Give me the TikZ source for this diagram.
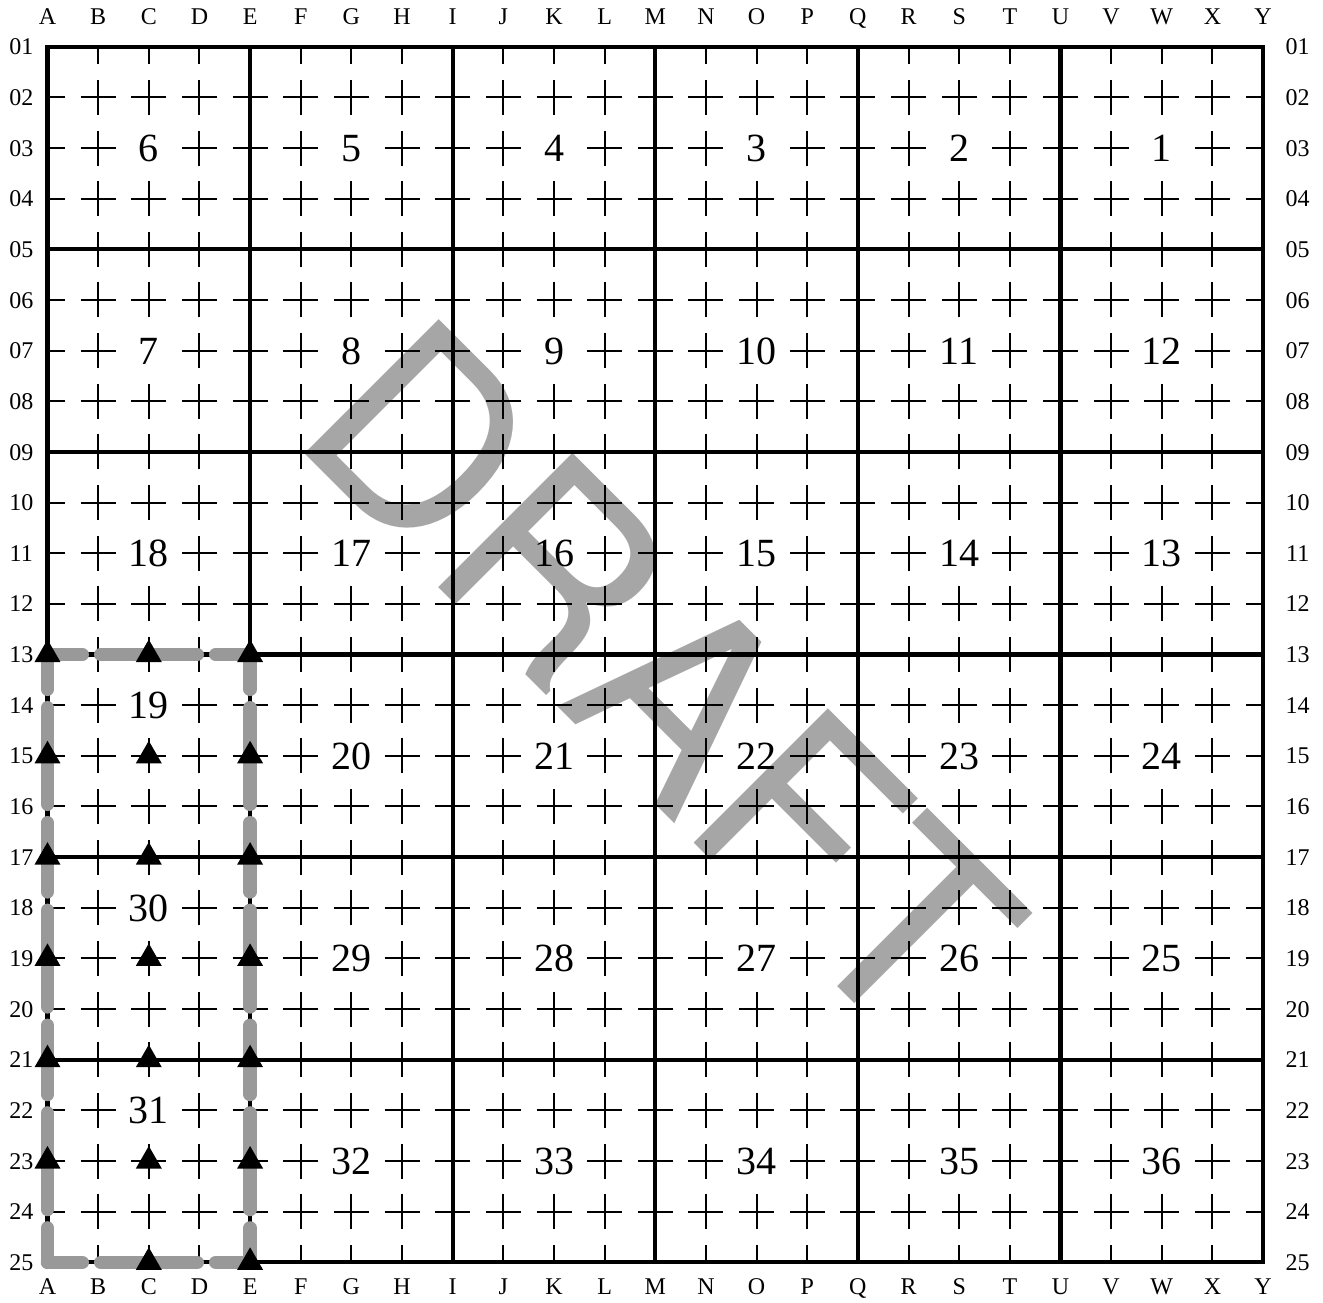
\documentclass[tikz,border=0pt]{standalone}
\usepackage{fontspec}
\setmainfont{Liberation Serif}
\newfontfamily\draftfont[Kerning=Off]{TeX Gyre Heros}
\usetikzlibrary{shapes.geometric}
\definecolor{draftgray}{RGB}{166,166,166}
\definecolor{pathgray}{RGB}{153,153,153}
\tikzset{
  gridthick/.style={line width=4.3pt, line cap=rect},
  gridtick/.style={line width=2pt, line cap=butt},
  blocknum/.style={font=\fontsize{40}{48}\selectfont, inner sep=0pt, anchor=base},
  axislabel/.style={font=\fontsize{24}{28}\selectfont, inner sep=0pt, anchor=base},
  routeedge/.style={draw=pathgray, line width=13.5pt, line cap=round, line join=round,
    dash pattern=on 34.75pt off 18.5pt on 96.5pt off 18.5pt on 210pt},
  marker/.style={regular polygon, regular polygon sides=3, minimum size=30pt, inner sep=0pt, outer sep=0pt, fill=black, draw=none},
  watermark/.style={font=\draftfont\fontsize{260.5}{260.5}\selectfont, text=draftgray, inner sep=0pt, anchor=base west, rotate=-45}
}
\begin{document}
\begin{tikzpicture}[x=1pt,y=1pt]
\useasboundingbox (0,0) rectangle (1323,-1302);
% watermark
\node[watermark] (draft) at (288.4,-437.4) {DRAFT};
% small crosses
\begin{scope}
\clip (47.5,-46.7) rectangle (1263.1,-1262.3);
\foreach \i in {0,...,24}{
  \foreach \j in {0,...,24}{
    \pgfmathtruncatemacro\skipit{(mod(\i,4)==2)*((mod(\j,4)==2)*(1-(\i==2)*(\j>12)) + (\i==2)*((\j==13)+(\j==17)+(\j==21)))}
    \ifnum\skipit=0
      \pgfmathsetmacro\X{47.5+50.65*\i}
      \pgfmathsetmacro\Y{-46.7-50.65*\j}
      \draw[gridtick] ({\X-17.5},\Y) -- ({\X+17.5},\Y) (\X,{\Y-17.5}) -- (\X,{\Y+17.5});
    \fi
  }
}
\end{scope}
% thick block lines
\foreach \k in {0,4,...,24}{
  \pgfmathsetmacro\X{47.5+50.65*\k}
  \pgfmathsetmacro\Y{-46.7-50.65*\k}
  \draw[gridthick] (\X,-46.7) -- (\X,-1262.3);
  \draw[gridthick] (47.5,\Y) -- (1263.1,\Y);
}
% block numbers
\foreach \n/\i/\j in {6/2/2,5/6/2,4/10/2,3/14/2,2/18/2,1/22/2,
  7/2/6,8/6/6,9/10/6,10/14/6,11/18/6,12/22/6,
  18/2/10,17/6/10,16/10/10,15/14/10,14/18/10,13/22/10,
  19/2/13,20/6/14,21/10/14,22/14/14,23/18/14,24/22/14,
  30/2/17,29/6/18,28/10/18,27/14/18,26/18/18,25/22/18,
  31/2/21,32/6/22,33/10/22,34/14/22,35/18/22,36/22/22}{
  \node[blocknum] (num\n) at ({47.5+50.65*\i},{-46.7-50.65*\j-13.5}) {\n};
}
% column labels
\foreach \L [count=\c from 0] in {A,...,Y}{
  \node[axislabel] (top\L) at ({47.5+50.65*\c},-24.7) {\L};
  \node[axislabel] (bot\L) at ({47.5+50.65*\c},-1294.6) {\L};
}
% row labels
\foreach \j in {1,...,25}{
  \node[axislabel] (left\j) at (21.3,{-46.7-50.65*(\j-1)-8.1}) {\ifnum\j<10 0\fi\j};
  \node[axislabel] (right\j) at (1297.7,{-46.7-50.65*(\j-1)-8.1}) {\ifnum\j<10 0\fi\j};
}
% route corners
\coordinate (A13) at (47.5,-654.5);
\coordinate (E13) at (250.1,-654.5);
\coordinate (A17) at (47.5,-857.1);
\coordinate (E17) at (250.1,-857.1);
\coordinate (A21) at (47.5,-1059.7);
\coordinate (E21) at (250.1,-1059.7);
\coordinate (A25) at (47.5,-1262.3);
\coordinate (E25) at (250.1,-1262.3);
\draw[routeedge] (A13) -- (E13);
\draw[routeedge] (A25) -- (E25);
\draw[routeedge] (A13) -- (A17);
\draw[routeedge] (A17) -- (A21);
\draw[routeedge] (A21) -- (A25);
\draw[routeedge] (E13) -- (E17);
\draw[routeedge] (E17) -- (E21);
\draw[routeedge] (E21) -- (E25);
% triangle markers
\foreach \r/\yy in {13/654.5,15/755.8,17/857.1,19/958.4,21/1059.7,23/1161.0}{
  \node[marker] (triA\r) at (47.5,-\yy) {};
  \node[marker] (triC\r) at (148.8,-\yy) {};
  \node[marker] (triE\r) at (250.1,-\yy) {};
}
\node[marker] (triC25) at (148.8,-1262.3) {};
\node[marker] (triE25) at (250.1,-1262.3) {};
\end{tikzpicture}
\end{document}
